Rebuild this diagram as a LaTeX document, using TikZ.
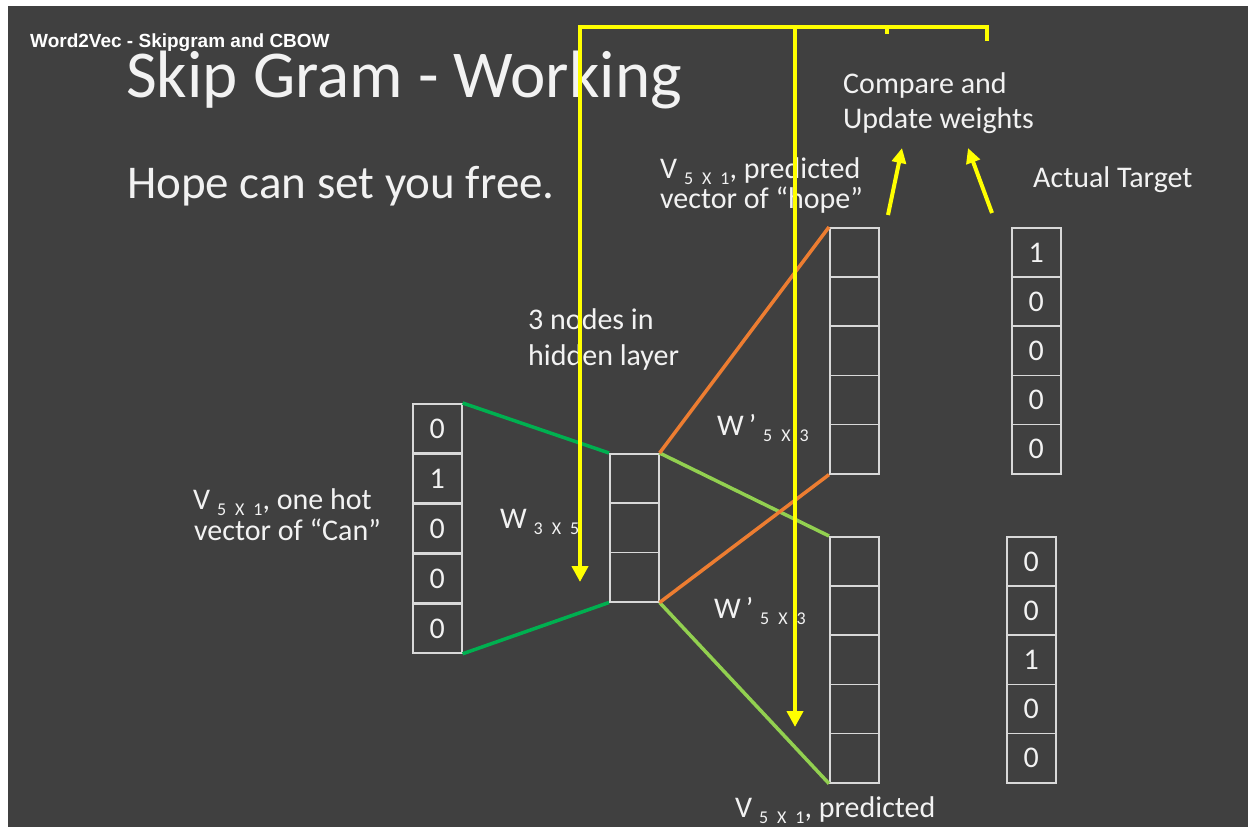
\documentclass[tikz,border=0pt]{standalone}
\usepackage{fontspec}
\setmainfont{Carlito}
\newfontfamily\headfont{Liberation Sans}
\usetikzlibrary{arrows.meta}

\definecolor{slide}{HTML}{404040}
\definecolor{cellgray}{HTML}{D9D9D9}
\definecolor{txt}{HTML}{F2F2F2}
\definecolor{wgreen}{HTML}{00B050}
\definecolor{wlime}{HTML}{92D050}
\definecolor{worange}{HTML}{ED7D31}
\definecolor{ylw}{HTML}{FFFF00}

% lowered dimension tag after V / W
\newcommand{\dimsub}[1]{\raisebox{-6pt}{\fontsize{18}{18}\selectfont #1}}

\begin{document}
\begin{tikzpicture}[
    x=1pt, y=-1pt,
    cell/.style={draw=cellgray, line width=1.6pt, minimum width=49pt, minimum height=49.2pt,
      inner sep=0pt, anchor=north west, text=txt, font=\fontsize{30}{30}\selectfont},
    lbl/.style={anchor=base west, inner sep=0pt, text=txt, font=\fontsize{30}{30}\selectfont},
    wire/.style={line width=3.5pt},
    hint/.style={draw=ylw, line width=4pt},
    >={Triangle[width=16pt,length=16pt]}
]

% slide background
\fill[white] (0,0) rectangle (1248,827);
\fill[slide] (8,6) rectangle (1248,827);
\useasboundingbox (0,0) rectangle (1248,827);

\node[anchor=base west, inner sep=0pt, text=white, font=\headfont\bfseries\fontsize{19}{19}\selectfont]
  (hdr) at (30,47) {Word2Vec - Skipgram and CBOW};
\node[lbl, font=\fontsize{67}{67}\selectfont] (title) at (126,97) {Skip Gram - Working};
\node[lbl, font=\fontsize{47}{47}\selectfont] (sent) at (127,198) {Hope can set you free.};

% vectors
\foreach \v [count=\i from 0] in {0,1,0,0,0}
  \node[cell] (in\i) at (412,403+50*\i) {\v};
\foreach \i in {0,1,2}
  \node[cell, minimum height=49.3pt] (hid\i) at (609,453+49.3*\i) {};
\foreach \i in {0,...,4} {
  \node[cell] (outa\i) at (829,227+49.2*\i) {};
  \node[cell] (outb\i) at (829,536+49.2*\i) {};
}
\foreach \v [count=\i from 0] in {1,0,0,0,0}
  \node[cell] (tga\i) at (1011,227+49.2*\i) {\v};
\foreach \v [count=\i from 0] in {0,0,1,0,0}
  \node[cell] (tgb\i) at (1006,536+49.2*\i) {\v};

% weights
\foreach \a/\b in {in0.north east/hid0.north west, in4.south east/hid2.south west}
  \draw[wire, wgreen] (\a) -- (\b);
\foreach \a/\b in {hid0.north east/outb0.north west, hid2.south east/outb4.south west}
  \draw[wire, wlime] (\a) -- (\b);
\foreach \a/\b in {hid0.north east/outa0.north west, hid2.south east/outa4.south west}
  \draw[wire, worange] (\a) -- (\b);

% labels
\node[lbl] (cmp1) at (843,93) {Compare and};
\node[lbl] (cmp2) at (843,128) {Update weights};
\node[lbl] (preda1) at (660,178) {V\ \dimsub{5\enspace X\enspace 1}, predicted};
\node[lbl] (preda2) at (660,208) {vector of “hope”};
\node[lbl] (tgtlbl) at (1033,187) {Actual Target};
\node[lbl] (hidlbl1) at (528,329) {3 nodes in};
\node[lbl] (hidlbl2) at (528,365) {hidden layer};
\node[lbl] (hot1) at (193,509) {V\ \dimsub{5\enspace X\enspace 1}, one hot};
\node[lbl] (hot2) at (194,540) {vector of “Can”};
\node[lbl] (win) at (500,528) {W\ \dimsub{3\enspace X\enspace 5}};
\node[lbl] (wouta) at (717,435) {W\,’\ \dimsub{5\enspace X\enspace 3}};
\node[lbl] (woutb) at (714,618) {W\,’\ \dimsub{5\enspace X\enspace 3}};
\node[lbl] (predb) at (735,817) {V\ \dimsub{5\enspace X\enspace 1}, predicted};

% feedback arrows
\coordinate (barL) at (580,27);
\coordinate (barM) at (795,27);
\coordinate (barT) at (887,27);
\coordinate (barR) at (987,27);
\coordinate (barRend) at (987,41);
\coordinate (barTend) at (887,34);
\coordinate (hidtip) at (580,582);
\coordinate (outtip) at (795,727);
\coordinate (predtail) at (888,215);
\coordinate (predhead) at (902,148);
\coordinate (tgttail) at (992,213);
\coordinate (tgthead) at (968,148);

\draw[hint, ->] (barRend) -- (barR) -- (barL) -- (hidtip);
\draw[hint, ->] (barM) -- (outtip);
\draw[hint] (barT) -- (barTend);
\draw[hint, -{Triangle[width=14pt,length=15pt]}] (predtail) -- (predhead);
\draw[hint, -{Triangle[width=14pt,length=15pt]}] (tgttail) -- (tgthead);

\end{tikzpicture}
\end{document}
